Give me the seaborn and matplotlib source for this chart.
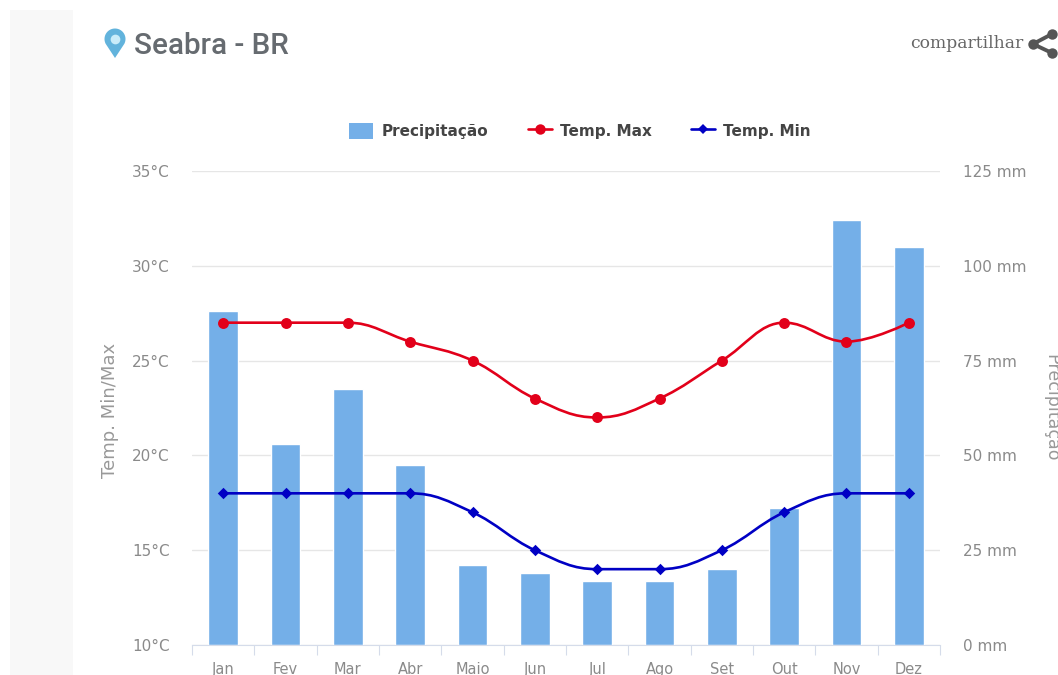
import numpy as np
import pandas as pd
import seaborn as sns
import matplotlib
matplotlib.use("Agg")
import matplotlib.pyplot as plt
from matplotlib.path import Path
from matplotlib.patches import PathPatch, Rectangle, Polygon
from matplotlib.lines import Line2D

months = ["Jan", "Fev", "Mar", "Abr", "Maio", "Jun", "Jul", "Ago", "Set", "Out", "Nov", "Dez"]
precipitacao = [88, 53, 67.5, 47.5, 21, 19, 17, 17, 20, 36, 112, 105]
temp_max = [27, 27, 27, 26, 25, 23, 22, 23, 25, 27, 26, 27]
temp_min = [18, 18, 18, 18, 17, 15, 14, 14, 15, 17, 18, 18]
temp_ticks = [10, 15, 20, 25, 30, 35]
prec_ticks = [0, 25, 50, 75, 100, 125]

W, H = 1058, 675
BAR = "#74afe8"
RED = "#e2001a"
BLUE = "#0000c4"
GREY = "#8a8a8a"

sns.set_theme(style="white")
plt.rcParams["font.family"] = ["DejaVu Sans"]

fig = plt.figure(figsize=(W / 100, H / 100), dpi=100, facecolor="white")


def fx(x):
    return x / W


def fy(y):
    return 1 - y / H


fig.add_artist(Rectangle((fx(10), 0), fx(63), fy(10), transform=fig.transFigure, color="#f8f8f8", lw=0))

L, R, T, B = 192, 940, 171, 645
ax2 = fig.add_axes([fx(L), fy(B), fx(R - L), (B - T) / H])
ax = ax2.twinx()
ax.set_zorder(ax2.get_zorder() + 1)
ax.patch.set_visible(False)
ax2.patch.set_visible(False)

df = pd.DataFrame({"mes": months, "prec": precipitacao, "tmax": temp_max, "tmin": temp_min})
sns.barplot(data=df, x="mes", y="prec", ax=ax2, color=BAR, saturation=1, width=0.48)


def spline_path(ys, smooth=1.5):
    # Same bezier smoothing as a Highcharts spline series
    n = len(ys)
    verts, codes = [(0, ys[0])], [Path.MOVETO]
    denom = smooth + 1
    left, right = [], []
    for i in range(n):
        if 0 < i < n - 1:
            lx = (smooth * i + (i - 1)) / denom
            ly = (smooth * ys[i] + ys[i - 1]) / denom
            rx = (smooth * i + (i + 1)) / denom
            ry = (smooth * ys[i] + ys[i + 1]) / denom
            corr = (ry - ly) * (rx - i) / (rx - lx) + ys[i] - ry
            ly += corr
            ry += corr
            if ly > ys[i - 1] and ly > ys[i]:
                ly = max(ys[i - 1], ys[i])
                ry = 2 * ys[i] - ly
            elif ly < ys[i - 1] and ly < ys[i]:
                ly = min(ys[i - 1], ys[i])
                ry = 2 * ys[i] - ly
            if ry > ys[i + 1] and ry > ys[i]:
                ry = max(ys[i + 1], ys[i])
                ly = 2 * ys[i] - ry
            elif ry < ys[i + 1] and ry < ys[i]:
                ry = min(ys[i + 1], ys[i])
                ly = 2 * ys[i] - ry
            left.append((lx, ly))
            right.append((rx, ry))
        else:
            left.append((i, ys[i]))
            right.append((i, ys[i]))
    for i in range(1, n):
        verts += [right[i - 1], left[i], (i, ys[i])]
        codes += [Path.CURVE4] * 3
    return Path(verts, codes)


ax.add_patch(PathPatch(spline_path(temp_max), fc="none", ec=RED, lw=1.9, capstyle="round"))
ax.add_patch(PathPatch(spline_path(temp_min), fc="none", ec=BLUE, lw=1.9, capstyle="round"))
xpos = np.arange(12)
sns.scatterplot(x=xpos, y=temp_max, ax=ax, color=RED, marker="o", s=62, linewidth=0, zorder=4)
sns.scatterplot(x=xpos, y=temp_min, ax=ax, color=BLUE, marker="D", s=34, linewidth=0, zorder=4)
ax.set_ylim(10, 35)
ax.yaxis.tick_left()
ax.yaxis.set_label_position("left")
ax.set_yticks(temp_ticks)
ax.set_yticklabels([f"{v}°C" for v in temp_ticks], color=GREY, fontsize=11)
ax.tick_params(axis="y", length=0, pad=16)
for s in ax.spines.values():
    s.set_visible(False)

ax2.set_ylim(0, 125)
ax2.set_yticks(prec_ticks)
ax2.set_yticklabels([f"{v} mm" for v in prec_ticks], color=GREY, fontsize=11)
ax2.yaxis.tick_right()
ax2.yaxis.set_label_position("right")
ax2.tick_params(axis="y", length=0, pad=16.5)
ax2.grid(axis="y", color="#e6e6e6", lw=1)
ax2.set_axisbelow(True)
ax2.set_xlabel("")
ax2.set_ylabel("")
ax2.set_xticks(range(12))
ax2.set_xticklabels(months, color=GREY, fontsize=10.5)
ax2.set_xticks(np.arange(-0.5, 12), minor=True)
ax2.set_xlim(-0.5, 11.5)
ax2.tick_params(axis="x", which="major", length=0, pad=12)
ax2.tick_params(axis="x", which="minor", length=7, width=0.8, color="#d5dcea", bottom=True)
for s in ax2.spines.values():
    s.set_visible(False)
ax2.spines["bottom"].set_visible(True)
ax2.spines["bottom"].set_color("#d5dcea")
ax2.spines["bottom"].set_linewidth(0.8)

fig.text(fx(110), fy(410), "Temp. Min/Max", rotation=90, ha="center", va="center", color="#999999", fontsize=13)
fig.text(fx(1051), fy(408), "Precipitação", rotation=270, ha="center", va="center", color="#999999", fontsize=12.6)

fig.text(fx(134), fy(46), "Seabra - BR", ha="left", va="center", color="#666b70", fontsize=21.3,
         fontweight="medium", family="Roboto")
fig.text(fx(910), fy(44), "compartilhar", ha="left", va="center", color="#666666", fontsize=12.3, family="DejaVu Serif")

# location pin
t = np.linspace(-0.15 * np.pi, 1.15 * np.pi, 40)
pin = [(fx(115 + 10.5 * np.cos(a)), fy(39 - 10.5 * np.sin(a))) for a in t] + [(fx(115), fy(58))]
fig.add_artist(Polygon(pin, closed=True, transform=fig.transFigure, fc="#62b3dc", ec="none"))
fig.add_artist(Line2D([fx(115)], [fy(39)], marker="o", ms=7, color="#c9ecf9", mew=0, transform=fig.transFigure))

# share icon
nodes = [(1052, 34), (1033, 44), (1052, 53)]
fig.add_artist(Line2D([fx(n[0]) for n in nodes], [fy(n[1]) for n in nodes], color="#555555", lw=2.8, transform=fig.transFigure))
for n in nodes:
    fig.add_artist(Line2D([fx(n[0])], [fy(n[1])], marker="o", ms=7.5, color="#555555", mew=0, transform=fig.transFigure))

handles = [
    Rectangle((0, 0), 1, 1, fc=BAR, ec="none"),
    Line2D([], [], color=RED, marker="o", ms=7.5, lw=1.9, mew=0),
    Line2D([], [], color=BLUE, marker="D", ms=5.5, lw=1.9, mew=0),
]
leg = fig.legend(
    handles, ["Precipitação", "Temp. Max", "Temp. Min"], loc="center",
    bbox_to_anchor=(fx(580), fy(131)), ncols=3, frameon=False,
    prop={"family": "DejaVu Sans", "weight": "bold", "size": 11},
    handlelength=1.57, handleheight=1.3, handletextpad=0.52, columnspacing=2.6,
)
for txt in leg.get_texts():
    txt.set_color("#444444")

fig.savefig("out.png", dpi=100, facecolor="white")
